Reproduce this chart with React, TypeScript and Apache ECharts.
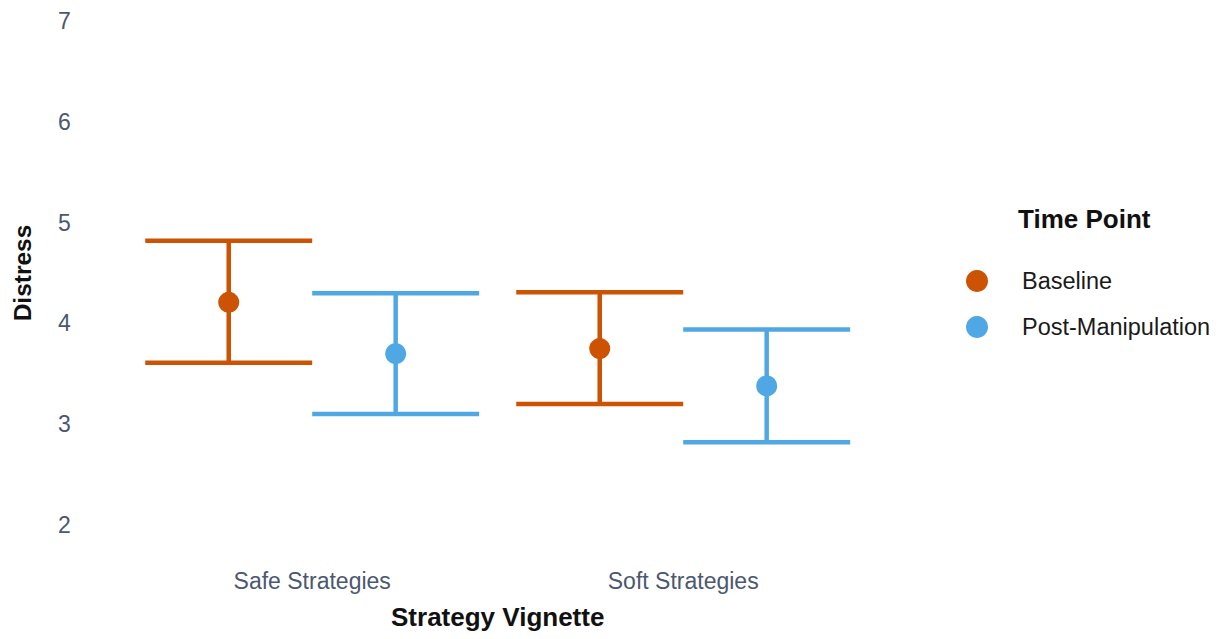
import React, { useEffect, useRef } from "react";
import * as echarts from "echarts";

// Strategy vignettes on the x axis
const categories: string[] = ["Safe Strategies", "Soft Strategies"];

// Mean distress with lower / upper interval bounds per vignette
const baselineMean: number[] = [4.21, 3.75];
const baselineLow: number[] = [3.61, 3.2];
const baselineHigh: number[] = [4.82, 4.31];

const postMean: number[] = [3.7, 3.38];
const postLow: number[] = [3.1, 2.82];
const postHigh: number[] = [4.3, 3.94];

const yTicks = { min: 2, max: 7, interval: 1 };

const FONT = "'Liberation Sans', Arial, Helvetica, sans-serif";
const ORANGE = "#CC5204";
const BLUE = "#4FA8E3";
const DODGE = 0.225; // fraction of a category band
const CAP_HALF = 0.225;

function buildRows(mean: number[], low: number[], high: number[]) {
  return categories.map((_, i) => [i, mean[i], low[i], high[i]]);
}

function makeRenderer(shift: number, color: string) {
  return (params: any, api: any) => {
    const i = api.value(0);
    const band = api.size([1, 0])[0];
    const mid = api.coord([i, api.value(1)]);
    const lo = api.coord([i, api.value(2)]);
    const hi = api.coord([i, api.value(3)]);
    const cx = mid[0] + shift * band;
    const half = CAP_HALF * band;
    const lineStyle = { stroke: color, lineWidth: 4.5 };
    return {
      type: "group",
      children: [
        { type: "line", shape: { x1: cx, y1: lo[1], x2: cx, y2: hi[1] }, style: lineStyle },
        { type: "line", shape: { x1: cx - half, y1: lo[1], x2: cx + half, y2: lo[1] }, style: lineStyle },
        { type: "line", shape: { x1: cx - half, y1: hi[1], x2: cx + half, y2: hi[1] }, style: lineStyle },
        { type: "circle", shape: { cx, cy: mid[1], r: 10.5 }, style: { fill: color } },
      ],
    };
  };
}

export default function App() {
  const ref = useRef<HTMLDivElement>(null);

  useEffect(() => {
    if (!ref.current) return;
    const chart = echarts.init(ref.current, undefined, { renderer: "svg" });
    chart.setOption({
      animation: false,
      backgroundColor: "#ffffff",
      textStyle: { fontFamily: FONT },
      grid: { left: 126.7, top: 21, width: 742, bottom: 114, containLabel: false },
      xAxis: {
        type: "category",
        data: categories,
        boundaryGap: true,
        axisLine: { show: false },
        axisTick: { show: false },
        splitLine: { show: false },
        axisLabel: { fontSize: 23, color: "#4B5870", margin: 44, fontFamily: FONT },
        name: "Strategy Vignette",
        nameLocation: "middle",
        nameGap: 79,
        nameTextStyle: { fontSize: 26, fontWeight: "bold", color: "#111", fontFamily: FONT },
      },
      yAxis: {
        type: "value",
        min: yTicks.min,
        max: yTicks.max,
        interval: yTicks.interval,
        axisLine: { show: false },
        axisTick: { show: false },
        splitLine: { show: false },
        axisLabel: { fontSize: 23, color: "#4B5870", margin: 56, fontFamily: FONT },
        name: "Distress",
        nameLocation: "middle",
        nameGap: 92,
        nameTextStyle: { fontSize: 24.5, fontWeight: "bold", color: "#111", fontFamily: FONT },
      },
      legend: {
        orient: "vertical",
        left: 961,
        top: 264,
        itemWidth: 22,
        itemHeight: 22,
        itemGap: 22,
        icon: "circle",
        data: ["Baseline", "Post-Manipulation"],
        textStyle: { fontSize: 23.5, color: "#1a1a1a", fontFamily: FONT, padding: [0, 0, 0, 29] },
      },
      graphic: [
        {
          type: "text",
          left: 1018,
          top: 206,
          style: { text: "Time Point", fontSize: 26, fontWeight: "bold", fill: "#111", fontFamily: FONT },
        },
      ],
      series: [
        {
          name: "Baseline",
          type: "custom",
          renderItem: makeRenderer(-DODGE, ORANGE),
          itemStyle: { color: ORANGE },
          encode: { x: 0, y: [1, 2, 3] },
          data: buildRows(baselineMean, baselineLow, baselineHigh),
        },
        {
          name: "Post-Manipulation",
          type: "custom",
          renderItem: makeRenderer(DODGE, BLUE),
          itemStyle: { color: BLUE },
          encode: { x: 0, y: [1, 2, 3] },
          data: buildRows(postMean, postLow, postHigh),
        },
      ],
    });
    return () => chart.dispose();
  }, []);

  return (
    <div
      ref={ref}
      style={{ position: "fixed", left: 0, top: 0, width: 1220, height: 639 }}
    />
  );
}
